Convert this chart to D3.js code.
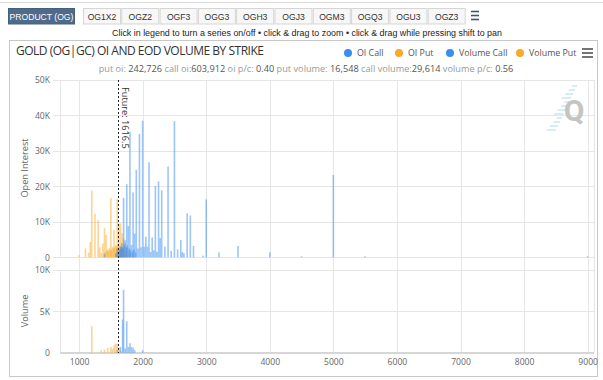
<!DOCTYPE html>
<html lang="en">
<head>
    <meta charset="UTF-8">
    <title>Gold OI and EOD volume by strike</title>
    <script src="https://cdn.jsdelivr.net/npm/d3@7"></script>
    <style>
        body { margin: 0; background: #fff; }
        svg { display: block; font-family: "Open Sans", Arial, sans-serif; }
    </style>
</head>
<body>
    <script>
        // tabs across the top
        var tabs = ["OG1X2", "OGZ2", "OGF3", "OGG3", "OGH3", "OGJ3", "OGM3", "OGQ3", "OGU3", "OGZ3"];

        // OI calls by strike
        var callOIStrikes = [1400, 1580, 1600, 1610, 1625, 1640, 1650, 1660, 1670, 1680, 1690, 1700, 1710, 1725, 1740, 1750, 1760, 1775, 1790, 1800, 1810, 1825, 1840, 1850, 1860, 1875, 1890, 1900, 1925, 1950, 1975, 2000, 2025, 2050, 2075, 2100, 2125, 2150, 2175, 2200, 2225, 2250, 2275, 2300, 2350, 2400, 2450, 2500, 2550, 2600, 2625, 2650, 2700, 2750, 2800, 2950, 3000, 3200, 3500, 4000, 4500, 5000, 5500, 9000];
        var callOIValues = [900, 1200, 2500, 1500, 1800, 2200, 3000, 2400, 3950, 3000, 2600, 16750, 3600, 4800, 2900, 20600, 3400, 8800, 2500, 35400, 2000, 3500, 1600, 18300, 2200, 6700, 1400, 24700, 2500, 34800, 2800, 38500, 3000, 5800, 3000, 26800, 1500, 5600, 2000, 20100, 1600, 21400, 5400, 18900, 3000, 25600, 1800, 38400, 2200, 4900, 1500, 1100, 12400, 11800, 3200, 450, 16300, 1400, 3200, 1400, 300, 23200, 300, 300];

        // OI puts by strike
        var putOIStrikes = [1000, 1100, 1150, 1175, 1200, 1250, 1300, 1325, 1350, 1375, 1400, 1410, 1425, 1440, 1450, 1460, 1475, 1490, 1500, 1510, 1525, 1540, 1550, 1560, 1575, 1590, 1600, 1610, 1625, 1640, 1650, 1660, 1675, 1690, 1700, 1710, 1725, 1740, 1750, 1775, 1800, 1850];
        var putOIValues = [600, 2500, 1300, 4300, 18800, 12300, 10400, 2800, 1200, 3900, 8200, 1500, 6300, 1800, 2300, 1700, 2600, 2000, 16700, 2200, 3000, 2600, 7700, 2800, 3400, 3000, 16500, 3500, 9500, 3200, 9600, 3000, 6800, 2400, 5300, 2000, 3900, 1500, 2600, 1800, 1200, 500];

        // EOD volume by strike
        var callVolStrikes = [1600, 1650, 1685, 1700, 1725, 1750, 1775, 1800, 1825, 1850, 1875, 2000];
        var callVolValues = [300, 700, 4000, 7600, 500, 3800, 700, 1150, 700, 600, 300, 300];
        var putVolStrikes = [1200, 1350, 1400, 1450, 1500, 1525, 1550, 1575, 1600, 1625, 1650];
        var putVolValues = [3200, 300, 400, 600, 700, 500, 900, 1100, 1100, 600, 300];

        var xTicks = [1000, 2000, 3000, 4000, 5000, 6000, 7000, 8000, 9000];
        var oiTicks = [0, 10000, 20000, 30000, 40000, 50000];
        var volTicks = [0, 5000, 10000];
        var futurePrice = 1616.5;

        var legendItems = ["OI Call", "OI Put", "Volume Call", "Volume Put"];
        var summary = [["put oi: ", "242,726"], [" call oi:", "603,912"], [" oi p/c: ", "0.40"],
            [" put volume: ", "16,548"], [" call volume:", "29,614"], [" volume p/c: ", "0.56"]];

        var blue = "#3a8ef0";
        var orange = "#f9aa2a";

        var svg = d3.select("body").append("svg")
            .attr("width", 603)
            .attr("height", 380);

        // tab bar
        svg.append("line").attr("x1", 0).attr("x2", 603).attr("y1", 2.5).attr("y2", 2.5)
            .attr("stroke", "#dcdcdc");
        svg.append("rect").attr("x", 8.5).attr("y", 8.5).attr("width", 66).attr("height", 15.5)
            .attr("fill", "#4f6b8b").attr("stroke", "#44607f");
        svg.append("text").attr("x", 41.5).attr("y", 19.5).attr("text-anchor", "middle")
            .attr("font-family", "Arial, sans-serif").attr("font-size", 8.6).attr("fill", "#fff")
            .text("PRODUCT (OG)");
        var tab = svg.selectAll(".tab").data(tabs).enter().append("g")
            .attr("transform", function (d, i) { return "translate(" + (83.5 + i * 38.3) + ",8.5)"; });
        tab.append("rect").attr("width", 37).attr("height", 15.5)
            .attr("fill", "#f7f7f7").attr("stroke", "#d5d5d5");
        tab.append("text").attr("x", 18.5).attr("y", 11).attr("text-anchor", "middle")
            .attr("font-family", "Arial, sans-serif").attr("font-size", 8.6).attr("fill", "#333")
            .text(function (d) { return d; });
        [11.5, 15.5, 19.5].forEach(function (y) {
            svg.append("line").attr("x1", 471).attr("x2", 479).attr("y1", y).attr("y2", y)
                .attr("stroke", "#3e5672").attr("stroke-width", 1.6);
        });

        svg.append("text").attr("x", 307).attr("y", 35.5).attr("text-anchor", "middle")
            .attr("font-family", "Arial, sans-serif").attr("font-size", 8.9).attr("fill", "#222")
            .text("Click in legend to turn a series on/off \u2022 click & drag to zoom \u2022 click & drag while pressing shift to pan");

        // chart frame
        svg.append("rect").attr("x", 9.5).attr("y", 40.5).attr("width", 588).attr("height", 336)
            .attr("fill", "#fff").attr("stroke", "#c8c8c8");

        svg.append("text").attr("x", 16).attr("y", 55)
            .attr("font-size", 12).attr("fill", "#333")
            .attr("textLength", 248).attr("lengthAdjust", "spacing")
            .text("GOLD (OG|GC) OI AND EOD VOLUME BY STRIKE");

        var sub = svg.append("text").attr("x", 306).attr("y", 71.5).attr("text-anchor", "middle")
            .attr("font-size", 9.2);
        summary.forEach(function (p) {
            sub.append("tspan").attr("fill", "#9a9a9a").text(p[0]);
            sub.append("tspan").attr("fill", "#555").text(p[1]);
        });

        // legend
        var legendX = [348, 399, 450, 520];
        var legend = svg.selectAll(".legend").data(legendItems).enter().append("g")
            .attr("transform", function (d, i) { return "translate(" + legendX[i] + ",53)"; });
        legend.append("circle").attr("r", 4)
            .attr("fill", function (d, i) { return i % 2 === 0 ? blue : orange; });
        legend.append("text").attr("x", 9).attr("y", 3.2).attr("font-size", 8.8).attr("fill", "#555")
            .text(function (d) { return d; });
        [49, 53, 57].forEach(function (y) {
            svg.append("line").attr("x1", 582).attr("x2", 593).attr("y1", y).attr("y2", y)
                .attr("stroke", "#666").attr("stroke-width", 1.8);
        });

        // scales
        var x = d3.scaleLinear().domain([700, 9100]).range([60, 594]);
        var yOI = d3.scaleLinear().domain([0, 50000]).range([257.3, 80]);
        var yVol = d3.scaleLinear().domain([0, 10000]).range([352.7, 270]);
        var fmtK = function (d) { return d === 0 ? "0" : (d / 1000) + "K"; };

        // grid
        var grid = svg.append("g").attr("stroke", "#e6e6e6");
        grid.selectAll(".vg").data(xTicks).enter().append("line")
            .attr("x1", function (d) { return Math.round(x(d)) + 0.5; })
            .attr("x2", function (d) { return Math.round(x(d)) + 0.5; })
            .attr("y1", 80).attr("y2", 352.7);
        grid.append("line").attr("x1", 594.5).attr("x2", 594.5).attr("y1", 80).attr("y2", 352.7);
        grid.selectAll(".hg").data(oiTicks).enter().append("line")
            .attr("x1", 53).attr("x2", 594)
            .attr("y1", function (d) { return Math.round(yOI(d)) + 0.5; })
            .attr("y2", function (d) { return Math.round(yOI(d)) + 0.5; });
        grid.selectAll(".hv").data(volTicks.slice(1)).enter().append("line")
            .attr("x1", 53).attr("x2", 594)
            .attr("y1", function (d) { return Math.round(yVol(d)) + 0.5; })
            .attr("y2", function (d) { return Math.round(yVol(d)) + 0.5; });
        grid.append("line").attr("x1", 60.5).attr("x2", 60.5).attr("y1", 80).attr("y2", 257.3);
        grid.append("line").attr("x1", 60.5).attr("x2", 60.5).attr("y1", 270).attr("y2", 352.7);
        svg.append("line").attr("x1", 60).attr("x2", 594).attr("y1", 353).attr("y2", 353)
            .attr("stroke", "#d6d6d6").attr("stroke-width", 2);

        // axis labels
        var axisY1 = d3.axisLeft(yOI).tickValues(oiTicks).tickFormat(fmtK).tickSize(0).tickPadding(10);
        var axisY2 = d3.axisLeft(yVol).tickValues(volTicks).tickFormat(fmtK).tickSize(0).tickPadding(10);
        var axisX = d3.axisBottom(x).tickValues(xTicks).tickSize(0).tickPadding(6).tickFormat(d3.format("d"));
        var ga = svg.append("g").attr("transform", "translate(60,0)").call(axisY1);
        var gb = svg.append("g").attr("transform", "translate(60,0)").call(axisY2);
        var gc = svg.append("g").attr("transform", "translate(0,353)").call(axisX);
        [ga, gb, gc].forEach(function (g) {
            g.select(".domain").remove();
            g.selectAll("text").attr("fill", "#666").attr("font-size", 8.6)
                .attr("font-family", "\"Open Sans\", Arial, sans-serif");
        });

        svg.append("text").attr("transform", "translate(28,168) rotate(-90)").attr("text-anchor", "middle")
            .attr("font-size", 9.2).attr("fill", "#666").text("Open Interest");
        svg.append("text").attr("transform", "translate(28,311) rotate(-90)").attr("text-anchor", "middle")
            .attr("font-size", 9.2).attr("fill", "#666").text("Volume");

        // watermark
        var wm = svg.append("g").attr("stroke", "#bfe2f6").attr("stroke-width", 1.3);
        d3.range(12).forEach(function (i) {
            var yy = 86 + i * 4;
            var xx = 575 - i * 1.9;
            wm.append("line").attr("x1", xx - 3 - (i % 4) * 1.5).attr("x2", xx + 2).attr("y1", yy).attr("y2", yy);
        });
        svg.append("text").attr("x", 574).attr("y", 121).attr("text-anchor", "middle")
            .attr("font-family", "Roboto, Arial, sans-serif").attr("font-weight", "bold")
            .attr("font-size", 30).attr("fill", "#c4c4c4").text("Q");

        function bars(strikes, values, y, color) {
            svg.append("g").selectAll("rect")
                .data(strikes.map(function (s, i) { return [s, values[i]]; }))
                .enter().append("rect")
                .attr("x", function (d) { return x(d[0]) - 0.8; })
                .attr("width", 1.6)
                .attr("y", function (d) { return y(d[1]); })
                .attr("height", function (d) { return y(0) - y(d[1]); })
                .attr("fill", color)
                .attr("fill-opacity", 0.5);
        }
        bars(putOIStrikes, putOIValues, yOI, orange);
        bars(callOIStrikes, callOIValues, yOI, blue);
        bars(putVolStrikes, putVolValues, yVol, orange);
        bars(callVolStrikes, callVolValues, yVol, blue);

        // future price
        var fx = Math.round(x(futurePrice)) + 0.5;
        svg.append("line").attr("x1", fx).attr("x2", fx).attr("y1", 80).attr("y2", 353)
            .attr("stroke", "#222").attr("stroke-dasharray", "2,2");
        svg.append("text").attr("transform", "translate(" + (fx + 3.5) + ",87) rotate(90)")
            .attr("font-size", 9.2).attr("fill", "#333").text("Future: " + futurePrice);
    </script>
</body>
</html>
